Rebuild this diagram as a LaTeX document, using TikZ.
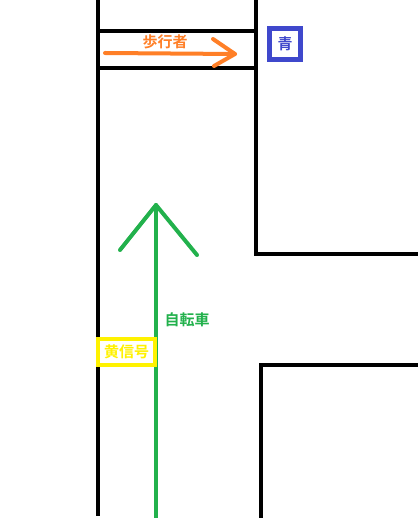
\documentclass[tikz,border=0pt]{standalone}
\usepackage{fontspec}
\usepackage{xcolor}
\newfontfamily\jpfont{Noto Sans CJK JP}[BoldFont={* Bold}]

\definecolor{walkOrange}{RGB}{255,127,39}
\definecolor{lightBlue}{RGB}{63,72,204}
\definecolor{bikeGreen}{RGB}{34,177,76}
\definecolor{signalYellow}{RGB}{255,242,0}

\begin{document}
\begin{tikzpicture}[x=1pt,y=1pt,yscale=-1,xscale=1,
    wall/.style={line width=4pt},
    walkline/.style={color=walkOrange,line width=4pt,line cap=round,line join=round},
    bikeline/.style={color=bikeGreen,line width=4pt,line cap=round,line join=round},
    jptext/.style={font=\jpfont\bfseries\fontsize{15}{15}\selectfont,inner sep=0.75pt}]
            \useasboundingbox (0,0) rectangle (418,518);
            
            %Straight Lines [left wall]
            \draw [wall]   (98,0) -- (98,516) ;
            %Straight Lines [upper right corner]
            \draw [wall]   (256,0) -- (256,254) -- (418,254) ;
            %Straight Lines [lower right corner]
            \draw [wall]   (261,518) -- (261,365) -- (418,365) ;
            %Straight Lines [crosswalk]
            \draw [wall]   (98,31) -- (256,31) ;
            \draw [wall]   (98,68) -- (256,68) ;
            
            %Arrow [pedestrian]
            \coordinate (walkStart) at (105,53);
            \coordinate (walkTip) at (235,54);
            \draw [walkline]   (walkStart) -- (walkTip) ;
            \draw [walkline]   (213,39) -- (walkTip) -- (214,66) ;
            %Arrow [bicycle]
            \coordinate (bikeStart) at (156,518);
            \coordinate (bikeTip) at (156,205);
            \draw [bikeline]   (bikeStart) -- (bikeTip) ;
            \draw [bikeline]   (120,250) -- (bikeTip) -- (197,255) ;
            
            % Text Node
            \node [jptext,text=walkOrange] (walkLabel) at (165,42) {歩行者};
            % Text Node
            \node [jptext,text=bikeGreen] (bikeLabel) at (187,320) {自転車};
            % Box Node
            \node [jptext,text=lightBlue,draw=lightBlue,line width=5pt,fill=white,minimum width=31pt,minimum height=31pt] (greenSignal) at (285,44) {青};
            % Box Node
            \node [jptext,text=signalYellow,draw=signalYellow,line width=4pt,fill=white,minimum width=57pt,minimum height=26pt] (yellowSignal) at (126.5,352) {黄信号};
            
\end{tikzpicture}
\end{document}
